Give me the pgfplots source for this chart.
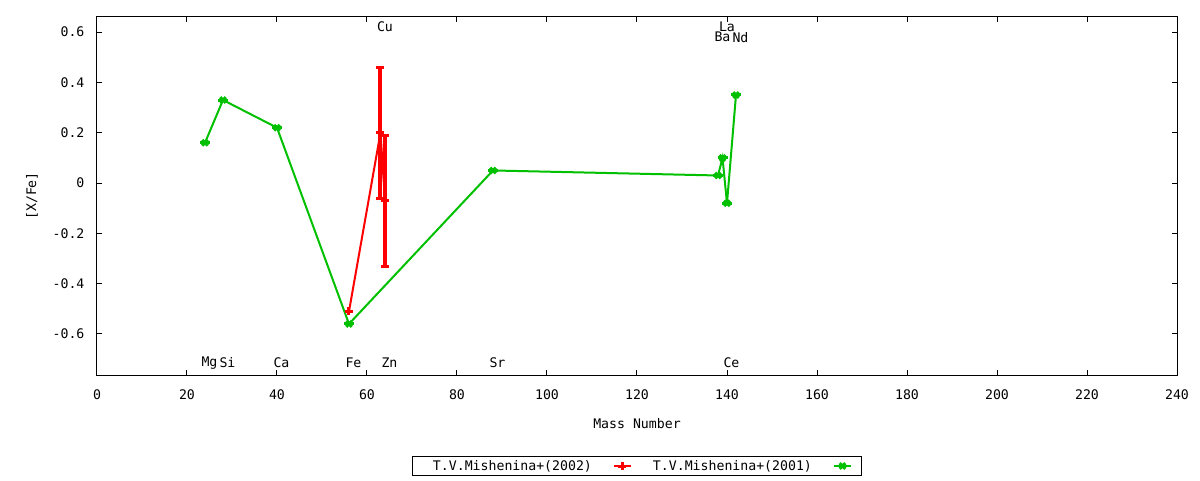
\documentclass[border=0pt]{standalone}
\usepackage{pgfplots}
\pgfplotsset{compat=1.18}
\usepackage{fontspec}
\setmainfont{DejaVu Sans Mono}
\definecolor{gred}{RGB}{255,0,0}
\definecolor{ggreen}{RGB}{0,192,0}
\newcommand{\fs}{\fontsize{13.2}{15}\selectfont}
\begin{document}
\fs
\begin{tikzpicture}
\useasboundingbox (-97pt,-105pt) rectangle (1103pt,375pt);
\begin{axis}[
  at={(0pt,0pt)}, anchor=south west,
  scale only axis, width=1080pt, height=358pt,
  xmin=0, xmax=240, ymin=-0.763, ymax=0.66,
  xtick={0,20,40,60,80,100,120,140,160,180,200,220,240},
  ytick={-0.6,-0.4,-0.2,0,0.2,0.4,0.6},
  yticklabels={-0.6,-0.4,-0.2,0,0.2,0.4,0.6},
  tick align=inside, major tick length=5pt,
  axis line style={line width=1pt},
  every tick/.style={line width=1pt, black},
  font=\fs,
  /pgf/number format/assume math mode=true,
  xticklabel style={yshift=-10pt},
  yticklabel style={xshift=-8pt},
  xlabel={Mass Number},
  ylabel={[X/Fe]},
  xlabel style={at={(rel axis cs:0.5,0)}, anchor=center, yshift=-49pt},
  ylabel style={at={([xshift=-65pt]rel axis cs:0,0.5)}, anchor=center},
  legend plot pos=right,
  legend columns=2,
  legend style={draw=black, line width=1pt, at={([yshift=-91pt]rel axis cs:0.5,0)}, anchor=center,
    font=\fs, inner xsep=9pt, inner ysep=1pt,
    /tikz/every even column/.append style={column sep=10pt},
    /tikz/every odd column/.append style={column sep=19pt}},
  clip=false,
]
\addplot[gred, line width=2pt, mark=+, mark size=4pt, mark options={line width=3pt},
  error bars/.cd, y dir=both, y explicit,
  error bar style={line width=4pt},
  error mark options={rotate=90, line width=3pt, mark size=4pt, gred}]
  coordinates {
  (56,-0.51) +- (0,0)
  (63,0.20) +- (0,0.26)
  (64,-0.07) +- (0,0.26)
  };
\addlegendentry{\hspace*{9pt}T.V.Mishenina+(2002)}
\addplot[ggreen, line width=2pt, mark=x, mark size=4pt, mark options={line width=3pt},
  error bars/.cd, y dir=both, y explicit,
  error bar style={line width=3pt},
  error mark options={rotate=90, line width=3pt, mark size=5pt, ggreen}]
  coordinates {
  (24,0.16) +- (0,0)
  (28,0.33) +- (0,0)
  (40,0.22) +- (0,0)
  (56,-0.56) +- (0,0)
  (88,0.05) +- (0,0)
  (138,0.03) +- (0,0)
  (139,0.10) +- (0,0)
  (140,-0.08) +- (0,0)
  (142,0.35) +- (0,0)
  };
\addlegendentry{\hspace*{9pt}T.V.Mishenina+(2001)}
\begin{scope}[every node/.style={inner sep=0pt, anchor=center, font=\fs}]
\node at (axis cs:64,0.62) {Cu};
\node at (axis cs:140,0.62) {La};
\node at (axis cs:139,0.58) {Ba};
\node at (axis cs:143,0.58) {Nd};
\node at (axis cs:25,-0.715) {Mg};
\node at (axis cs:29,-0.715) {Si};
\node at (axis cs:41,-0.715) {Ca};
\node at (axis cs:57,-0.715) {Fe};
\node at (axis cs:65,-0.715) {Zn};
\node at (axis cs:89,-0.715) {Sr};
\node at (axis cs:141,-0.715) {Ce};
\end{scope}
\end{axis}
\end{tikzpicture}
\end{document}
